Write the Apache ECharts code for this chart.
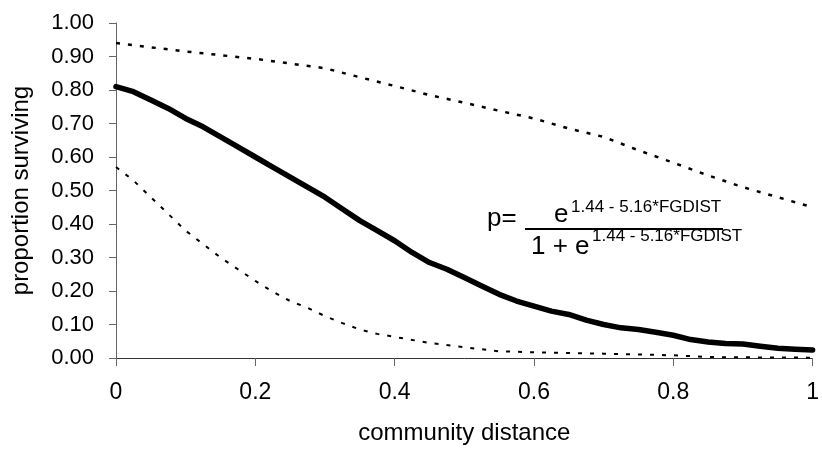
<!DOCTYPE html>
<html>
<head>
<meta charset="utf-8">
<script src="https://cdn.jsdelivr.net/npm/echarts@6/dist/echarts.min.js"></script>
<style>
  html, body { margin: 0; padding: 0; background: #fff; }
  #main { width: 822px; height: 452px; }
</style>
</head>
<body>
<div id="main"></div>
<script>
// fitted curve (solid)
const fitDist = [0, 0.025, 0.05, 0.075, 0.1, 0.125, 0.15, 0.175, 0.2, 0.225, 0.25, 0.275, 0.3, 0.325, 0.35, 0.375, 0.4, 0.425, 0.45, 0.475, 0.5, 0.525, 0.55, 0.575, 0.6, 0.625, 0.65, 0.675, 0.7, 0.725, 0.75, 0.775, 0.8, 0.825, 0.85, 0.875, 0.9, 0.925, 0.95, 0.975, 1.0]
const fitProp = [0.81, 0.795, 0.77, 0.745, 0.715, 0.69, 0.66, 0.63, 0.60, 0.57, 0.54, 0.51, 0.48, 0.445, 0.41, 0.38, 0.35, 0.315, 0.285, 0.265, 0.24, 0.215, 0.19, 0.17, 0.155, 0.14, 0.13, 0.113, 0.10, 0.09, 0.085, 0.077, 0.068, 0.055, 0.048, 0.043, 0.042, 0.035, 0.029, 0.026, 0.024]

// upper confidence band (dotted)
const upperDist = [0, 0.1, 0.2, 0.3, 0.35, 0.4, 0.45, 0.5, 0.55, 0.6, 0.65, 0.7, 0.75, 0.8, 0.85, 0.9, 0.95, 1.0]
const upperProp = [0.94, 0.915, 0.893, 0.865, 0.838, 0.812, 0.785, 0.762, 0.738, 0.715, 0.685, 0.66, 0.62, 0.583, 0.545, 0.51, 0.48, 0.45]

// lower confidence band (dotted)
const lowerDist = [0, 0.025, 0.05, 0.075, 0.1, 0.125, 0.15, 0.175, 0.2, 0.225, 0.25, 0.275, 0.3, 0.325, 0.35, 0.375, 0.4, 0.45, 0.5, 0.55, 0.6, 0.7, 0.8, 0.85, 0.9, 1.0]
const lowerProp = [0.57, 0.53, 0.48, 0.43, 0.38, 0.34, 0.30, 0.265, 0.23, 0.198, 0.17, 0.15, 0.125, 0.104, 0.085, 0.072, 0.063, 0.045, 0.032, 0.02, 0.017, 0.013, 0.008, 0.003, 0.002, 0.001]

const xTicks = [0, 0.2, 0.4, 0.6, 0.8, 1]
const yTicks = [0, 0.1, 0.2, 0.3, 0.4, 0.5, 0.6, 0.7, 0.8, 0.9, 1.0]

const pairs = (xs, ys) => xs.map((x, i) => [x, ys[i]])

const font = 'Liberation Sans, Arial, sans-serif'
const chart = echarts.init(document.getElementById('main'), null, { renderer: 'canvas' })

chart.setOption({
    animation: false,
    backgroundColor: '#fff',
    grid: { left: 116, right: 3, top: 23, bottom: 94, containLabel: false },
    xAxis: {
        type: 'value',
        min: 0,
        max: 1,
        interval: 0.2,
        name: 'community distance',
        nameLocation: 'middle',
        nameGap: 63,
        nameTextStyle: { fontFamily: font, fontSize: 24, color: '#000' },
        axisLine: { show: true, lineStyle: { color: '#333', width: 1 } },
        axisTick: { show: true, inside: false, length: 8, lineStyle: { color: '#666' } },
        axisLabel: {
            margin: 23, fontFamily: font, fontSize: 23, color: '#000',
            formatter: v => String(xTicks.find(t => Math.abs(t - v) < 1e-9) ?? v)
        },
        splitLine: { show: false }
    },
    yAxis: {
        type: 'value',
        min: 0,
        max: 1,
        interval: 0.1,
        name: 'proportion surviving',
        nameLocation: 'middle',
        nameGap: 83,
        nameTextStyle: { fontFamily: font, fontSize: 24, color: '#000' },
        axisLine: { show: true, lineStyle: { color: '#666', width: 1 } },
        axisTick: { show: true, inside: false, length: 7, lineStyle: { color: '#666' } },
        axisLabel: {
            margin: 22, fontFamily: font, fontSize: 22, color: '#000',
            formatter: v => (yTicks.find(t => Math.abs(t - v) < 1e-9) ?? v).toFixed(2)
        },
        splitLine: { show: false }
    },
    series: [
        {
            name: 'upper',
            type: 'line',
            data: pairs(upperDist, upperProp),
            showSymbol: false,
            lineStyle: { color: '#000', width: 2.5, type: [4, 8] },
            z: 2
        },
        {
            name: 'lower',
            type: 'line',
            data: pairs(lowerDist, lowerProp),
            showSymbol: false,
            lineStyle: { color: '#000', width: 2, type: [4, 8] },
            z: 2
        },
        {
            name: 'fit',
            type: 'line',
            data: pairs(fitDist, fitProp),
            showSymbol: false,
            lineStyle: { color: '#000', width: 5.5, cap: 'round', join: 'round' },
            z: 3
        }
    ],
    graphic: [
        // formula annotation
        { type: 'text', x: 487, y: 219, style: { text: 'p=', font: '26px ' + font, fill: '#000', textVerticalAlign: 'middle' } },
        { type: 'text', x: 554, y: 215, style: { text: 'e', font: '26px ' + font, fill: '#000', textVerticalAlign: 'middle' } },
        { type: 'text', x: 571, y: 207, style: { text: '1.44 - 5.16*FGDIST', font: '17px ' + font, fill: '#000', textVerticalAlign: 'middle' } },
        { type: 'line', shape: { x1: 525, y1: 229, x2: 723, y2: 229 }, style: { stroke: '#000', lineWidth: 1.8 } },
        { type: 'text', x: 531, y: 247, style: { text: '1 + e', font: '26px ' + font, fill: '#000', textVerticalAlign: 'middle' } },
        { type: 'text', x: 592, y: 236, style: { text: '1.44 - 5.16*FGDIST', font: '17px ' + font, fill: '#000', textVerticalAlign: 'middle' } }
    ]
})
</script>
</body>
</html>
